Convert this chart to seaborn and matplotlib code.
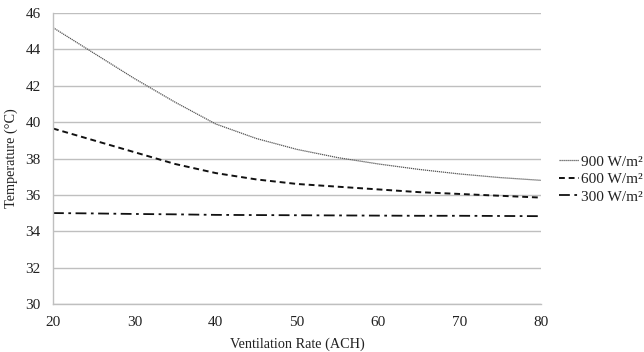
import matplotlib
matplotlib.use("Agg")
import matplotlib.pyplot as plt
import seaborn as sns
import pandas as pd

ach = [20, 25, 30, 35, 40, 45, 50, 55, 60, 65, 70, 75, 80]
t900 = [45.2, 43.8, 42.4, 41.1, 39.9, 39.1, 38.5, 38.05, 37.7, 37.4, 37.15, 36.95, 36.8]
t600 = [39.65, 39.0, 38.35, 37.7, 37.2, 36.85, 36.6, 36.45, 36.3, 36.15, 36.05, 35.95, 35.85]
t300 = [35.0, 34.98, 34.95, 34.93, 34.9, 34.89, 34.88, 34.87, 34.86, 34.85, 34.85, 34.84, 34.83]
labels = ["900 W/m²", "600 W/m²", "300 W/m²"]
xticks = [20, 30, 40, 50, 60, 70, 80]
yticks = [30, 32, 34, 36, 38, 40, 42, 44, 46]

sns.set_style("white")
plt.rcParams['font.family'] = ['Liberation Serif', 'DejaVu Serif']

df = pd.concat([
    pd.DataFrame({"ACH": ach, "T": t900, "s": labels[0]}),
    pd.DataFrame({"ACH": ach, "T": t600, "s": labels[1]}),
    pd.DataFrame({"ACH": ach, "T": t300, "s": labels[2]}),
])

fig = plt.figure(figsize=(6.44, 3.52), dpi=100)
ax = fig.add_axes([0.0823, 0.1364, 0.840 - 0.0823, 0.963 - 0.1364])

styles = {
    labels[0]: dict(color="#555555", lw=0.9, ls=(0, (1, 0.6))),
    labels[1]: dict(color="#111111", lw=1.4, ls=(0, (3, 2))),
    labels[2]: dict(color="#111111", lw=1.3, ls=(0, (6, 2.5, 1.5, 2.5))),
}
handles = []
for lab in labels:
    sub = df[df["s"] == lab]
    sns.lineplot(data=sub, x="ACH", y="T", ax=ax, color=styles[lab]["color"],
                 lw=styles[lab]["lw"], linestyle=styles[lab]["ls"], legend=False)
    handles.append(ax.lines[-1])

ax.set_xlim(20, 80)
ax.set_ylim(30, 46)
ax.set_xticks(xticks)
ax.set_yticks(yticks)
ax.yaxis.grid(True, color="#bfbfbf", lw=1.0)
ax.set_axisbelow(True)
for s in ["top", "right"]:
    ax.spines[s].set_visible(False)
for s in ["left", "bottom"]:
    ax.spines[s].set_color("#bfbfbf")
    ax.spines[s].set_linewidth(1.0)
ax.tick_params(axis="both", which="both", length=4, color="#bfbfbf", direction="out",
               labelsize=11, labelcolor="#222222", pad=5)
ax.set_xlabel("Ventilation Rate (ACH)", fontsize=10.3, color="#222222", labelpad=6)
ax.set_ylabel("Temperature (°C)", fontsize=10.3, color="#222222", labelpad=5)

fig.legend(handles, labels, loc="center left", bbox_to_anchor=(0.868, 0.491),
           frameon=False, fontsize=11, handlelength=1.3, handletextpad=0.15,
           labelspacing=0.25, borderaxespad=0, borderpad=0, labelcolor="#222222")

fig.savefig("out.png", dpi=100)
